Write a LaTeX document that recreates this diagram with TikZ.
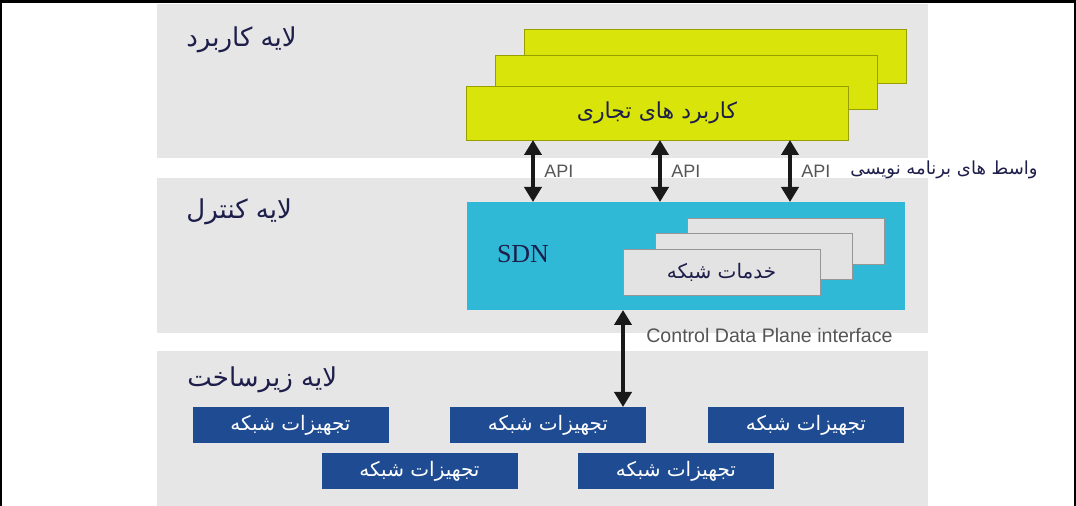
\documentclass[tikz,border=0pt]{standalone}
\usepackage{fontspec}
\setmainfont{Liberation Sans}
\newfontfamily\sdnfont{Liberation Serif}
\newfontfamily\farsi[Script=Arabic]{DejaVu Sans}
\usetikzlibrary{arrows.meta}
\TeXXeTstate=1
\newcommand{\fatext}[1]{{\farsi\beginR #1\endR}}

\definecolor{layergray}{RGB}{230,230,230}
\definecolor{appyellow}{RGB}{216,228,10}
\definecolor{appborder}{RGB}{150,158,0}
\definecolor{sdncyan}{RGB}{48,185,215}
\definecolor{servgray}{RGB}{227,227,227}
\definecolor{servborder}{RGB}{150,150,150}
\definecolor{devblue}{RGB}{30,75,145}
\definecolor{navytext}{RGB}{30,30,75}
\definecolor{labelgray}{RGB}{85,85,85}

\begin{document}
\begin{tikzpicture}[
        x=0.5pt, y=-0.5pt,
        % Schichten und Bloecke
        layer/.style={fill=layergray},
        layertitle/.style={anchor=west, inner sep=0pt, text=navytext, font=\fontsize{13}{15}\selectfont},
        appblock/.style={draw=appborder, fill=appyellow, line width=0.4pt, minimum width=191pt, minimum height=27pt, inner sep=0pt, outer sep=0pt, text=navytext, font=\fontsize{11}{13}\selectfont},
        sdnblock/.style={fill=sdncyan, minimum width=219pt, minimum height=54pt, inner sep=0pt, outer sep=0pt},
        servblock/.style={draw=servborder, fill=servgray, line width=0.4pt, minimum width=98.5pt, minimum height=23pt, inner sep=0pt, outer sep=0pt, text=navytext, font=\fontsize{10}{12}\selectfont},
        devblock/.style={fill=devblue, minimum width=98pt, minimum height=18pt, inner sep=0pt, outer sep=0pt, text=white, font=\fontsize{10}{12}\selectfont},
        biarrow/.style={{Triangle[width=8.5pt,length=7.5pt]}-{Triangle[width=8.5pt,length=7.5pt]}, line width=2.3pt, draw=black!90},
        sidelabel/.style={text=labelgray, inner sep=0pt}
    ]

    \useasboundingbox (0,0) rectangle (1076,506);

    % ==========================================
    % 1. RAHMEN UND SCHICHTEN
    % ==========================================
    \fill[black] (0,0) rectangle (1076,3);
    \fill[black] (0,0) rectangle (2,506);
    \fill[black] (1074,0) rectangle (1076,506);

    \fill[layer] (157,4) rectangle (928,158);
    \fill[layer] (157,178) rectangle (928,333);
    \fill[layer] (157,351) rectangle (928,506);

    \node[layertitle] (titleapp)   at (186,40)  {\fatext{لایه کاربرد}};
    \node[layertitle] (titlectrl)  at (186,212) {\fatext{لایه کنترل}};
    \node[layertitle] (titleinfra) at (187,380) {\fatext{لایه زیرساخت}};

    % ==========================================
    % 2. BLOECKE
    % ==========================================

    % Anwendungen (gestapelt)
    \node[appblock] (appback) at (715.5,56) {};
    \node[appblock] (appmid)  at (686,82)   {};
    \node[appblock] (app)     at (657,113)  {\fatext{کاربرد های تجاری}};

    % Controller
    \node[sdnblock] (sdn) at (686,256) {};
    \node[text=navytext, font=\sdnfont\fontsize{13}{15}\selectfont] (sdnlabel) at (523,254) {SDN};

    \node[servblock] (servback) at (785.5,241.5) {};
    \node[servblock] (servmid)  at (753.5,256.5) {};
    \node[servblock] (serv)     at (721.5,272)   {\fatext{خدمات شبکه}};

    % Netzwerkgeraete
    \node[devblock] (devA) at (290.5,425) {\fatext{تجهیزات شبکه}};
    \node[devblock] (devB) at (548,425)   {\fatext{تجهیزات شبکه}};
    \node[devblock] (devC) at (806,425)   {\fatext{تجهیزات شبکه}};
    \node[devblock] (devD) at (419.5,471) {\fatext{تجهیزات شبکه}};
    \node[devblock] (devE) at (676,471)   {\fatext{تجهیزات شبکه}};

    % ==========================================
    % 3. VERBINDUNGEN
    % ==========================================

    % --- Northbound API ---
    \foreach \px in {533,660,790}
        \draw[biarrow] (\px,0 |- app.south) -- (\px,0 |- sdn.north)
            node[midway, right, sidelabel, xshift=4.5pt, font=\fontsize{9}{11}\selectfont] {API};

    \node[anchor=west, inner sep=0pt, text=navytext, font=\fontsize{9}{11}\selectfont] (apititle) at (850,170) {\fatext{واسط های برنامه نویسی}};

    % --- Southbound ---
    \draw[biarrow] (623,0 |- sdn.south) -- (623,0 |- devB.north)
        node[pos=0.26, right, sidelabel, xshift=10.5pt, font=\fontsize{9.8}{12}\selectfont] {Control Data Plane interface};

\end{tikzpicture}
\end{document}
